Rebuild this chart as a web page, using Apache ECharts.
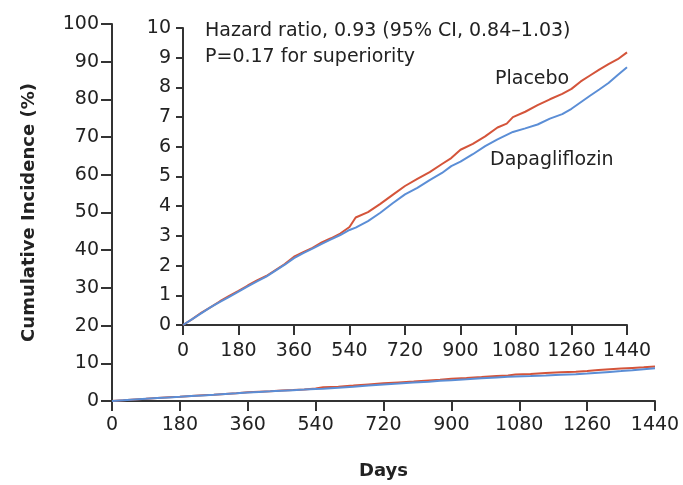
<!DOCTYPE html>
<html>
<head>
<meta charset="utf-8">
<script src="https://cdn.jsdelivr.net/npm/echarts@6/dist/echarts.min.js"></script>
<style>
html,body{margin:0;padding:0;background:#fff;}
#chart{width:683px;height:485px;}
</style>
</head>
<body>
<div id="chart"></div>
<script>
const days = [0,30,60,90,120,150,180,210,240,270,300,330,360,390,420,450,480,510,540,560,600,640,680,720,760,800,840,870,900,940,980,1020,1050,1070,1110,1150,1190,1230,1260,1290,1320,1350,1380,1410,1440];
const placebo = [0,0.2,0.42,0.6,0.8,0.98,1.15,1.33,1.5,1.65,1.85,2.05,2.3,2.45,2.6,2.78,2.92,3.08,3.3,3.62,3.8,4.08,4.38,4.68,4.92,5.15,5.42,5.62,5.9,6.1,6.35,6.65,6.78,7.0,7.18,7.4,7.6,7.78,7.95,8.2,8.4,8.6,8.78,8.95,9.18];
const dapagliflozin = [0,0.2,0.4,0.6,0.78,0.95,1.12,1.3,1.47,1.63,1.83,2.03,2.25,2.42,2.57,2.73,2.88,3.03,3.2,3.28,3.5,3.78,4.1,4.4,4.62,4.88,5.12,5.35,5.5,5.75,6.02,6.25,6.4,6.5,6.62,6.75,6.95,7.1,7.28,7.5,7.72,7.93,8.15,8.42,8.68];
const xTicks = [0,180,360,540,720,900,1080,1260,1440];
const mainYTicks = [0,10,20,30,40,50,60,70,80,90,100];
const insetYTicks = [0,1,2,3,4,5,6,7,8,9,10];
const hazardText = 'Hazard ratio, 0.93 (95% CI, 0.84\u20131.03)';
const pText = 'P=0.17 for superiority';
const seriesNames = ['Placebo','Dapagliflozin'];

const RED = '#d4543a', BLUE = '#5b8ed6', INK = '#222', AX = '#333';
const FONT = 'DejaVu Sans';
const FS = 19;
const pairs = arr => days.map((d,i)=>[d,arr[i]]);

function xAxisCfg(gridIndex, margin, name){
  return {
    type:'value', gridIndex, min:0, max:1440, interval:180,
    axisLine:{show:true,onZero:false,lineStyle:{color:AX,width:2}},
    axisTick:{show:true,length:10,lineStyle:{color:AX,width:2}},
    axisLabel:{color:INK,fontFamily:FONT,fontSize:FS,margin,
      formatter:v=>xTicks.includes(v)?String(v):''},
    splitLine:{show:false},
    name: name||'', nameLocation:'middle', nameGap:61,
    nameTextStyle:{color:INK,fontFamily:FONT,fontSize:18,fontWeight:'bold'}
  };
}
function yAxisCfg(gridIndex, max, interval, ticks, margin, tickLen, name){
  return {
    type:'value', gridIndex, min:0, max, interval,
    axisLine:{show:true,lineStyle:{color:AX,width:2}},
    axisTick:{show:true,length:tickLen,lineStyle:{color:AX,width:2}},
    axisLabel:{color:INK,fontFamily:FONT,fontSize:FS,margin,
      formatter:v=>ticks.includes(v)?String(v):''},
    splitLine:{show:false},
    name: name||'', nameLocation:'middle', nameGap:74,
    nameTextStyle:{color:INK,fontFamily:FONT,fontSize:18,fontWeight:'bold'}
  };
}

const chart = echarts.init(document.getElementById('chart'),null,{renderer:'canvas'});
chart.setOption({
  backgroundColor:'#fff',
  animation:false,
  grid:[
    {left:112,right:28,top:24,bottom:78},
    {left:183,right:56,top:28,bottom:160}
  ],
  xAxis:[xAxisCfg(0,15,'Days'), xAxisCfg(1,17)],
  yAxis:[yAxisCfg(0,100,10,mainYTicks,13,11,'Cumulative Incidence (%)'), yAxisCfg(1,10,1,insetYTicks,12,7)],
  series:[
    {name:seriesNames[0],type:'line',xAxisIndex:0,yAxisIndex:0,data:pairs(placebo),showSymbol:false,lineStyle:{color:RED,width:2},z:2},
    {name:seriesNames[1],type:'line',xAxisIndex:0,yAxisIndex:0,data:pairs(dapagliflozin),showSymbol:false,lineStyle:{color:BLUE,width:2},z:3},
    {name:seriesNames[0],type:'line',xAxisIndex:1,yAxisIndex:1,data:pairs(placebo),showSymbol:false,lineStyle:{color:RED,width:2},z:2},
    {name:seriesNames[1],type:'line',xAxisIndex:1,yAxisIndex:1,data:pairs(dapagliflozin),showSymbol:false,lineStyle:{color:BLUE,width:2},z:3}
  ],
  graphic:[
    {type:'text',left:205,top:22,style:{text:hazardText,fill:INK,font:FS+'px "DejaVu Sans"'}},
    {type:'text',left:205,top:48,style:{text:pText,fill:INK,font:FS+'px "DejaVu Sans"'}},
    {type:'text',left:495,top:70,style:{text:seriesNames[0],fill:INK,font:FS+'px "DejaVu Sans"'}},
    {type:'text',left:490,top:151,style:{text:seriesNames[1],fill:INK,font:FS+'px "DejaVu Sans"'}}
  ]
});
</script>
</body>
</html>
